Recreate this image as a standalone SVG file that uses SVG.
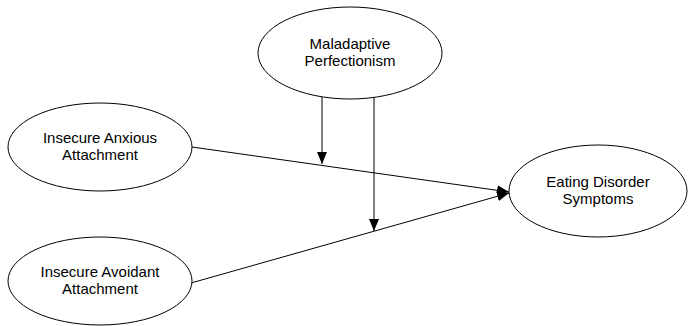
<svg xmlns="http://www.w3.org/2000/svg" width="689" height="326" viewBox="0 0 689 326">
<defs>
<style>
.node ellipse{fill:#fff;stroke:#000;stroke-width:1}
.node text{font-family:"Liberation Sans",Arial,sans-serif;font-size:15px;fill:#000;text-anchor:middle}
.edge{stroke:#000;stroke-width:1;fill:none;marker-end:url(#ah)}
</style>
<marker id="ah" viewBox="0 0 12 10" refX="12" refY="5" markerWidth="12" markerHeight="10" markerUnits="userSpaceOnUse" orient="auto">
<path d="M0,0 L12,5 L0,10 Z" fill="#000"/>
</marker>
</defs>
<rect width="689" height="326" fill="#fff"/>
<g id="connectors">
<line class="edge" x1="192" y1="147" x2="509" y2="192"/>
<line class="edge" x1="191" y1="283" x2="509" y2="193"/>
<line class="edge" x1="322" y1="97" x2="322" y2="164"/>
<line class="edge" x1="374" y1="98" x2="374" y2="231"/>
</g>
<g id="maladaptive" class="node">
<ellipse cx="350" cy="53" rx="92" ry="46"/>
<text x="350" y="49">Maladaptive</text>
<text x="350" y="66">Perfectionism</text>
</g>
<g id="anxious" class="node">
<ellipse cx="100" cy="147" rx="92" ry="44"/>
<text x="100" y="143">Insecure Anxious</text>
<text x="100" y="160">Attachment</text>
</g>
<g id="avoidant" class="node">
<ellipse cx="100" cy="281" rx="92" ry="44"/>
<text x="100" y="277">Insecure Avoidant</text>
<text x="100" y="294">Attachment</text>
</g>
<g id="eating" class="node">
<ellipse cx="598" cy="191" rx="89" ry="46"/>
<text x="598" y="187">Eating Disorder</text>
<text x="598" y="204">Symptoms</text>
</g>
</svg>
